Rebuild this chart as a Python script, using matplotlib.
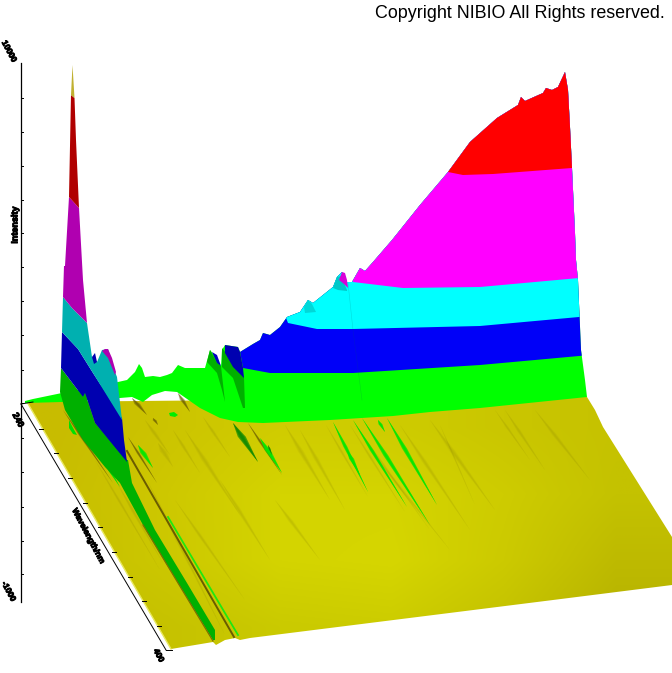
import numpy as np
import matplotlib
matplotlib.use('Agg')
import matplotlib.pyplot as plt
from matplotlib.patches import Polygon
import matplotlib.patheffects as pe

silhouette_x = [25, 33, 62, 118, 127, 135, 139, 142, 145, 153, 160, 167, 172, 178, 185, 205, 210, 215, 221, 222, 225, 238, 240,
                253, 260, 263, 270, 280, 287, 300, 308, 313, 333, 337, 342, 347, 352, 360, 365, 373, 392, 420, 448, 470, 497, 518,
                521, 525, 543, 546, 552, 558, 565, 568, 570, 572, 575, 576, 578, 581, 585, 587]
silhouette_y = [401, 399, 393, 382, 380, 372, 364, 368, 377, 376, 377, 375, 373, 365, 368, 368, 350, 356, 366, 350, 345, 347, 352,
                344, 340, 333, 335, 327, 317, 312, 300, 303, 287, 277, 272, 282, 282, 268, 271, 262, 240, 205, 172, 142, 118, 105,
                97, 101, 93, 88, 90, 87, 72, 90, 127, 168, 233, 260, 280, 350, 380, 397]

green_low_x = [25, 62, 120, 132, 143, 152, 165, 177, 200, 220, 238, 263, 330, 393, 430, 480, 587]
green_low_y = [403, 402, 398, 397, 402, 395, 391, 392, 408, 418, 422, 423, 420, 416, 412, 408, 397]
blue_low_x = [238, 243, 270, 353, 480, 590]
blue_low_y = [340, 368, 373, 373, 365, 355]
cyan_low_x = [283, 288, 317, 353, 480, 590]
cyan_low_y = [310, 323, 329, 329, 326, 316]
magenta_low_x = [350, 353, 403, 480, 590]
magenta_low_y = [270, 282, 288, 287, 277]
red_low_x = [440, 448, 463, 493, 572, 590]
red_low_y = [160, 172, 175, 174, 168, 167]
band_colors = ['#00ff00', '#0000f8', '#00ffff', '#ff00ff', '#ff0000']

seam_x = [348, 353, 362]
seam_y = [283, 330, 400]

floor_x = [27, 587, 595, 603, 672, 672, 553, 250, 240, 235, 225, 216, 213, 171]
floor_y = [402, 397, 410, 427, 537, 585, 600, 638, 640, 638, 640, 645, 642, 649]
floor_red = [[200, 204, 208, 206, 202, 198],
             [200, 206, 212, 212, 206, 196],
             [198, 204, 212, 214, 204, 190],
             [194, 198, 202, 204, 196, 182]]
floor_green = [[188, 196, 204, 204, 198, 194],
               [190, 200, 212, 212, 204, 194],
               [190, 200, 212, 214, 202, 186],
               [188, 194, 202, 204, 194, 178]]

# left peak, one outline per colour
olive_x = [72.5, 71, 74.5]
olive_y = [65, 95, 98]
darkred_x = [71, 74.5, 76, 79, 69]
darkred_y = [95, 98, 140, 208, 197]
purple_x = [69, 79, 83, 87, 72, 63, 64, 65]
purple_y = [197, 208, 280, 323, 308, 297, 266, 266]
teal_x = [63, 72, 87, 92, 97, 102, 108, 115, 117, 122, 93, 78, 62]
teal_y = [297, 308, 323, 357, 362, 350, 349, 372, 377, 420, 373, 349, 332]
blue_peak_x = [62, 78, 93, 122, 124, 127, 95, 85, 83, 61]
blue_peak_y = [332, 349, 373, 418, 440, 462, 423, 393, 397, 368]
darkgreen_x = [61, 83, 85, 95, 127, 128, 132, 155, 187, 215, 215, 213, 170, 143, 120, 105, 83, 65, 60]
darkgreen_y = [368, 397, 393, 423, 460, 460, 483, 530, 583, 630, 640, 640, 570, 525, 483, 467, 440, 410, 392]
bump_blue_x = [92, 95, 97, 94]
bump_blue_y = [357, 353, 362, 364]
bump_purple_x = [102, 105, 108, 112, 116, 115, 108]
bump_purple_y = [351, 349, 349, 358, 372, 375, 358]

# bumps on the back ridge
bump_dkgreen_x = [210, 207, 217, 222, 225, 221, 217]
bump_dkgreen_y = [350, 362, 373, 390, 402, 366, 363]
bump_dkblue_x = [212, 217, 221, 217]
bump_dkblue_y = [352, 355, 366, 363]
bump_dkgreen2_x = [222, 222, 233, 243, 245, 244, 236]
bump_dkgreen2_y = [348, 367, 378, 408, 408, 377, 365]
bump_dkblue2_x = [225, 238, 240, 243, 244, 233, 225]
bump_dkblue2_y = [345, 347, 352, 368, 378, 367, 353]
bump_teal_x = [333, 337, 341, 347, 347, 338]
bump_teal_y = [288, 277, 276, 290, 291, 290]
bump_cyan2_x = [304, 308, 312, 316, 305]
bump_cyan2_y = [307, 300, 304, 312, 313]
bump_magenta_x = [339, 342, 345, 347, 348, 344]
bump_magenta_y = [280, 272, 273, 280, 288, 284]

# streaks on the floor: start x, start y, end x, end y, widest
green_streaks = [(333, 422, 368, 492, 4), (353, 420, 407, 507, 4), (362, 418, 430, 525, 5),
                 (387, 418, 437, 505, 5), (260, 438, 282, 473, 6), (347, 450, 360, 475, 5),
                 (378, 420, 385, 432, 4), (138, 445, 153, 468, 6), (105, 463, 120, 487, 3)]
darkgreen_streaks = [(233, 423, 258, 462, 8), (268, 445, 272, 455, 2)]
dark_streaks = [(132, 398, 147, 415, 6), (153, 418, 158, 425, 4), (178, 393, 190, 412, 5), (128, 437, 157, 483, 3),
                (248, 423, 282, 475, 3), (63, 410, 113, 483, 3)]
olive_streaks = [(158, 443, 173, 467, 7), (173, 430, 200, 473, 4), (203, 417, 230, 457, 4), (185, 430, 240, 515, 6),
                 (145, 420, 170, 455, 5), (326, 425, 368, 497, 3), (350, 425, 405, 512, 3), (355, 425, 430, 530, 3),
                 (285, 425, 330, 500, 6), (300, 430, 345, 510, 5), (117, 483, 163, 563, 4), (147, 480, 225, 635, 4),
                 (400, 425, 470, 530, 5), (430, 420, 495, 510, 6), (440, 425, 475, 505, 2), (495, 410, 530, 460, 3),
                 (505, 410, 545, 470, 4), (535, 410, 590, 480, 5), (95, 460, 160, 570, 3),
                 (175, 500, 245, 600, 4), (370, 450, 450, 550, 4), (275, 500, 320, 560, 5), (220, 480, 270, 560, 5)]
blob_x = [169, 174, 178, 175, 170]
blob_y = [413, 412, 415, 417, 416]
blob2_x = [69, 72, 77, 73, 69]
blob2_y = [420, 426, 435, 434, 428]

long_green_x = [168, 238]
long_green_y = [517, 635]
long_dark_x = [127, 234]
long_dark_y = [451, 637]
strip_edge_x = [143, 213]
strip_edge_y = [525, 641]

# axes
yaxis_ticks = [98, 132, 166, 200, 233, 267, 301, 335, 370, 403, 438, 472, 507, 541, 574]
edge_ticks_x = [39, 54, 68, 83, 98, 112, 128, 142, 157]
edge_ticks_y = [429, 453, 478, 503, 527, 552, 577, 601, 626]


def streak(ax, x0, y0, x1, y1, w, color, alpha=1.0, z=3, soft=True):
    # lens shape, widest about a third of the way along
    mx, my = x0 + (x1 - x0) * 0.35, y0 + (y1 - y0) * 0.35
    for f in ([1.0, 0.65, 0.3] if soft else [1.0]):
        ax.add_patch(Polygon([(x0, y0), (mx - w * f / 2, my), (x1, y1), (mx + w * f / 2, my)], closed=True,
                             fc=color, ec='none', alpha=alpha, zorder=z))


fig = plt.figure(figsize=(6.72, 6.73), dpi=100)
ax = fig.add_axes([0, 0, 1, 1])

# floor
rgb = np.zeros((4, 6, 3))
rgb[:, :, 0] = np.array(floor_red) / 255
rgb[:, :, 1] = np.array(floor_green) / 255
im = ax.imshow(rgb, extent=(0, 672, 660, 395), interpolation='bilinear', aspect='auto', zorder=1)
ax.set_xlim(0, 672)
ax.set_ylim(673, 0)
ax.axis('off')
floor = Polygon(list(zip(floor_x, floor_y)), closed=True, transform=ax.transData, fc='none', ec='none')
ax.add_patch(floor)
im.set_clip_path(floor)
ax.plot([27, 171], [402, 649], color='#e8e860', lw=1, zorder=2)

for s in olive_streaks:
    streak(ax, *s, '#8f8800', alpha=0.09, z=2)
for s in dark_streaks:
    streak(ax, *s, '#5e5000', alpha=0.38, z=3)
for s in green_streaks:
    streak(ax, *s, '#00e800', alpha=0.7, z=4)
for s in darkgreen_streaks:
    streak(ax, *s, '#108a00', alpha=0.7, z=4)
ax.plot(long_green_x, long_green_y, color='#20e810', lw=1.3, zorder=4)
ax.plot(long_dark_x, long_dark_y, color='#6a5c00', lw=1.4, zorder=4)
ax.fill(blob_x, blob_y, color='#00ee00', zorder=4, lw=0)
ax.fill(blob2_x, blob2_y, color='#00e000', zorder=4, lw=0)

# back ridge, colour bands clipped by the silhouette
clip = Polygon(list(zip(silhouette_x, silhouette_y)) + [(587, 500), (25, 500)], closed=True,
               transform=ax.transData, fc='none', ec='none')
ax.add_patch(clip)
lows = [(green_low_x, green_low_y), (blue_low_x, blue_low_y), (cyan_low_x, cyan_low_y),
        (magenta_low_x, magenta_low_y), (red_low_x, red_low_y)]
for (lx, ly), c in zip(lows, band_colors):
    p = ax.fill(list(lx) + [lx[-1], lx[0]], list(ly) + [0, 0], color=c, lw=0, zorder=5)[0]
    p.set_clip_path(clip)
ax.plot(seam_x, seam_y, color='#006060', lw=0.4, alpha=0.2, zorder=6)

ax.fill(bump_dkgreen_x, bump_dkgreen_y, color='#00b000', lw=0, zorder=6)
ax.fill(bump_dkgreen2_x, bump_dkgreen2_y, color='#00b000', lw=0, zorder=6)
ax.fill(bump_dkblue_x, bump_dkblue_y, color='#0000c0', lw=0, zorder=6)
ax.fill(bump_dkblue2_x, bump_dkblue2_y, color='#0000b0', lw=0, zorder=6)
ax.fill(bump_teal_x, bump_teal_y, color='#00c8c8', lw=0, zorder=6)
ax.fill(bump_cyan2_x, bump_cyan2_y, color='#00d8d8', lw=0, zorder=6)
ax.fill(bump_magenta_x, bump_magenta_y, color='#d800d8', lw=0, zorder=6)

# left peak
ax.fill(darkgreen_x, darkgreen_y, color='#00b000', lw=0, zorder=7)
ax.plot(strip_edge_x, strip_edge_y, color='#7a7000', lw=0.9, zorder=7)
ax.fill(blue_peak_x, blue_peak_y, color='#0000b0', lw=0, zorder=7)
ax.fill(teal_x, teal_y, color='#00b0b0', lw=0, zorder=7)
ax.fill(purple_x, purple_y, color='#b000b0', lw=0, zorder=7)
ax.fill(darkred_x, darkred_y, color='#b00000', lw=0, zorder=7)
ax.fill(olive_x, olive_y, color='#c0b030', lw=0, zorder=7)
ax.fill(bump_blue_x, bump_blue_y, color='#0000b0', lw=0, zorder=7)
ax.fill(bump_purple_x, bump_purple_y, color='#b000b0', lw=0, zorder=7)

# axes and their tiny labels
ax.plot([21, 21], [63, 602], color='black', lw=0.9, zorder=8)
ax.plot([21, 166], [404, 650], color='black', lw=0.7, zorder=8)
ax.plot([21, 33], [404, 402], color='black', lw=0.7, zorder=8)
for t in yaxis_ticks:
    ax.plot([21, 23], [t, t], color='black', lw=0.7, zorder=8)
for tx, ty in zip(edge_ticks_x, edge_ticks_y):
    ax.plot([tx, tx + 4], [ty, ty], color='black', lw=0.7, zorder=8)
ax.plot([166, 172], [650, 650], color='black', lw=0.7, zorder=8)

lab = dict(family='Liberation Sans', weight='bold', color='black', ha='center', va='center', zorder=9,
           path_effects=[pe.withStroke(linewidth=0.7, foreground='black')])
ax.text(8.5, 52, '10000', fontsize=6, rotation=-62, **lab)
ax.text(15, 225, 'Intensity', fontsize=6.5, rotation=90, **lab)
ax.text(18, 420, '240', fontsize=6.5, rotation=-62, **lab)
ax.text(8, 592, '-1000', fontsize=6, rotation=-62, **lab)
ax.text(88, 537, 'Wavelength/nm', fontsize=6, rotation=-62, **lab)
ax.text(158, 656, '400', fontsize=6, rotation=-62, **lab)

ax.text(665, 14, 'Copyright NIBIO All Rights reserved.', family='Liberation Sans', fontsize=12.9,
        color='black', ha='right', va='center', zorder=9)

fig.savefig('out.png', dpi=100)
